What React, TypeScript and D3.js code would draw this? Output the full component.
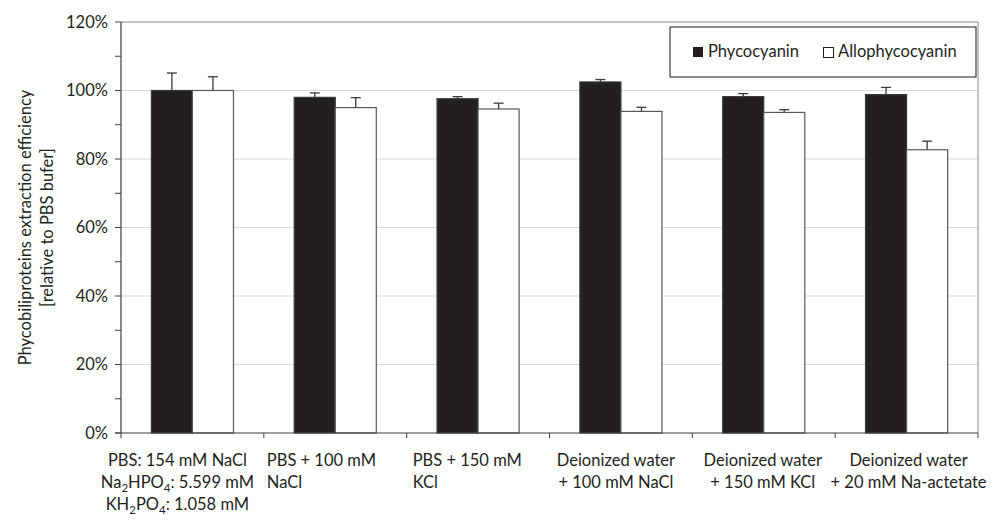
import { useMemo } from "react";
import { scaleLinear, scaleBand, range } from "d3";

const categories = ["pbs", "pbsNaCl", "pbsKCl", "diNaCl", "diKCl", "diAcetate"];

// label lines per category; sub-scripts marked with _n
const categoryLines: string[][] = [
  ["PBS: 154 mM NaCl", "Na_2HPO_4: 5.599 mM", "KH_2PO_4: 1.058 mM"],
  ["PBS + 100 mM", "NaCl"],
  ["PBS + 150 mM", "KCl"],
  ["Deionized water", "+ 100 mM NaCl"],
  ["Deionized water", "+ 150 mM KCl"],
  ["Deionized water", "+ 20 mM Na-actetate"],
];
const leftAligned = [false, true, true, false, false, false];
// small horizontal nudges of the labels, as in the original layout
const labelShift = [-15, 3, 6, -5, -1, 2];

const seriesNames = ["Phycocyanin", "Allophycocyanin"];
const phycocyanin = [100, 98.0, 97.6, 102.5, 98.2, 98.8];
const phycocyaninErr = [5.1, 1.3, 0.6, 0.7, 0.9, 2.1];
const allophycocyanin = [100, 95.0, 94.6, 93.9, 93.6, 82.7];
const allophycocyaninErr = [4.0, 2.9, 1.7, 1.2, 0.8, 2.5];

const yTicks = [0, 20, 40, 60, 80, 100, 120];
const yMinorTicks = range(0, 121, 10);

const FONT = "Lato, 'Open Sans', sans-serif";
const TEXT = "#231f20";
const FS = 16.5;

function SubText({ text }: { text: string }) {
  const parts = text.split(/(_\d)/).filter((p) => p !== "");
  let shifted = false;
  return (
    <>
      {parts.map((p, i) => {
        if (p.startsWith("_")) {
          const dy = shifted ? 0 : 4;
          shifted = true;
          return (
            <tspan key={i} dy={dy} fontSize={11.5}>
              {p.slice(1)}
            </tspan>
          );
        }
        const dy = shifted ? -4 : 0;
        shifted = false;
        return (
          <tspan key={i} dy={dy}>
            {p}
          </tspan>
        );
      })}
    </>
  );
}

export default function App() {
  const width = 1000;
  const height = 529;
  const left = 121;
  const right = 978;
  const top = 22;
  const bottom = 433;

  const x = useMemo(
    () => scaleBand<string>().domain(categories).range([left, right]).padding(0),
    []
  );
  const x1 = useMemo(
    () =>
      scaleBand<string>()
        .domain(seriesNames)
        .range([0, x.bandwidth()])
        .paddingInner(0)
        .paddingOuter(0.74),
    [x]
  );
  const y = useMemo(() => scaleLinear().domain([0, 120]).range([bottom, top]), []);

  const series = [
    { name: seriesNames[0], values: phycocyanin, err: phycocyaninErr, fill: "#231f20", stroke: "#3a3a3a" },
    { name: seriesNames[1], values: allophycocyanin, err: allophycocyaninErr, fill: "#ffffff", stroke: "#595959" },
  ];

  return (
    <div style={{ position: "fixed", left: 0, top: 0, width, height, background: "#fff" }}>
      <svg width={width} height={height} style={{ display: "block" }} fontFamily={FONT}>
        {/* gridlines */}
        {yTicks.slice(1, -1).map((t) => (
          <line key={t} x1={left} x2={right} y1={y(t)} y2={y(t)} stroke="#d9d9d9" strokeWidth={1.2} />
        ))}
        {/* frame */}
        <line x1={left} x2={right} y1={top} y2={top} stroke="#868686" />
        <line x1={right} x2={right} y1={top} y2={bottom} stroke="#868686" />

        {/* bars */}
        {series.map((s) =>
          categories.map((c, i) => {
            const bx = (x(c) ?? 0) + (x1(s.name) ?? 0);
            const bw = x1.bandwidth();
            return (
              <rect
                key={s.name + c}
                x={bx}
                y={y(s.values[i])}
                width={bw}
                height={y(0) - y(s.values[i])}
                fill={s.fill}
                stroke={s.stroke}
                strokeWidth={1.2}
              />
            );
          })
        )}
        {/* error bars */}
        {series.map((s) =>
          categories.map((c, i) => {
            const cx = (x(c) ?? 0) + (x1(s.name) ?? 0) + x1.bandwidth() / 2;
            const y0 = y(s.values[i]);
            const y1 = y(s.values[i] + s.err[i]);
            return (
              <g key={"e" + s.name + c} stroke="#3a3a3a" strokeWidth={1.3}>
                <line x1={cx} x2={cx} y1={y0} y2={y1} />
                <line x1={cx - 5} x2={cx + 5} y1={y1} y2={y1} />
              </g>
            );
          })
        )}

        {/* axes */}
        <line x1={left} x2={left} y1={top} y2={bottom} stroke="#404040" strokeWidth={1.2} />
        <line x1={left - 6} x2={right} y1={bottom} y2={bottom} stroke="#404040" strokeWidth={1.2} />
        {yMinorTicks.map((t) => (
          <line key={"yt" + t} x1={left - 6} x2={left} y1={y(t)} y2={y(t)} stroke="#404040" />
        ))}
        {range(categories.length + 1).map((i) => {
          const xx = i < categories.length ? x(categories[i]) ?? 0 : right;
          return <line key={"xt" + i} x1={xx} x2={xx} y1={bottom} y2={bottom + 5} stroke="#404040" />;
        })}

        {/* y tick labels */}
        {yTicks.map((t) => (
          <text key={"yl" + t} x={108} y={y(t)} dy="0.35em" textAnchor="end" fontSize={FS} fill={TEXT}>
            {t}%
          </text>
        ))}

        {/* y title */}
        <text transform={`translate(31, ${(top + bottom) / 2}) rotate(-90)`} textAnchor="middle" fontSize={FS} fill={TEXT}>
          Phycobiliproteins extraction efficiency
        </text>
        <text transform={`translate(53, ${(top + bottom) / 2}) rotate(-90)`} textAnchor="middle" fontSize={FS} fill={TEXT}>
          [relative to PBS bufer]
        </text>

        {/* x labels */}
        {categories.map((c, i) => {
          const cx = (x(c) ?? 0) + x.bandwidth() / 2;
          const lx = (leftAligned[i] ? x(c) ?? 0 : cx) + labelShift[i];
          return (
            <text
              key={"xl" + c}
              x={lx}
              y={466}
              fontSize={FS}
              fill={TEXT}
              textAnchor={leftAligned[i] ? "start" : "middle"}
            >
              {categoryLines[i].map((ln, j) => (
                <tspan key={j} x={lx} y={466 + j * 22}>
                  <SubText text={ln} />
                </tspan>
              ))}
            </text>
          );
        })}

        {/* legend */}
        <rect x={670} y={27} width={306} height={50} fill="#fff" stroke="#404040" strokeWidth={1.2} />
        <rect x={693} y={47} width={10} height={10} fill="#231f20" />
        <text x={708} y={57} fontSize={FS} fill={TEXT}>
          {seriesNames[0]}
        </text>
        <rect x={823.5} y={47.5} width={10} height={10} fill="#fff" stroke="#231f20" />
        <text x={838} y={57} fontSize={FS} fill={TEXT}>
          {seriesNames[1]}
        </text>
      </svg>
    </div>
  );
}
